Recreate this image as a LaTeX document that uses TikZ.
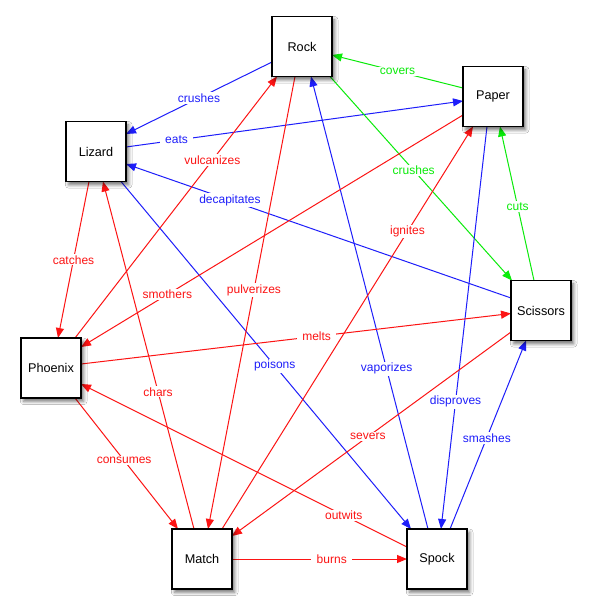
\documentclass[tikz,border=0pt]{standalone}
\usepackage{fontspec}
\setmainfont{Liberation Sans}
\usetikzlibrary{arrows.meta,calc,shadows.blur}
\definecolor{cred}{RGB}{252,20,20}
\definecolor{cblue}{RGB}{30,30,250}
\definecolor{cgreen}{RGB}{10,235,10}
\begin{document}
\begin{tikzpicture}[x=0.75pt,y=-0.75pt,
  box/.style={draw=black, line width=1pt, fill=white, minimum width=45pt, minimum height=45pt, inner sep=0pt,
    font=\fontsize{9.5}{11}\selectfont,
    blur shadow={shadow xshift=2pt, shadow yshift=-2.5pt, shadow blur radius=2.5pt, shadow opacity=55}},
  edge/.style={line width=0.75pt, -{Triangle[length=7.5pt,width=6pt]}},
  lbl/.style={fill=white, inner xsep=4pt, inner ysep=1pt, font=\fontsize{9}{10}\selectfont}
]
\fill[white] (0,0) rectangle (590,614);
\useasboundingbox (0,0) rectangle (590,614);

% node positions
\coordinate (rock) at (302,46.5);
\coordinate (paper) at (493,96.5);
\coordinate (lizard) at (96,151.5);
\coordinate (scissors) at (541,310.5);
\coordinate (phoenix) at (51,368);
\coordinate (match) at (202,559);
\coordinate (spock) at (437,559);

% edges
\draw[edge,cblue] ($(rock)+(-30,15.5)$) -- node[lbl,pos=.5]{crushes} ($(lizard)+(30,-17.5)$);
\draw[edge,cgreen] ($(paper)+(-30,-8.5)$) -- node[lbl,pos=.5]{covers} ($(rock)+(30,8.5)$);
\draw[edge,cblue] ($(lizard)+(30,-4.5)$) -- node[lbl,pos=.15]{eats} ($(paper)+(-30,4.5)$);
\draw[edge,cgreen] ($(rock)+(28,30)$) -- node[lbl,pos=.46]{crushes} ($(scissors)+(-29,-30)$);
\draw[edge,cgreen] ($(scissors)+(-7,-30)$) -- node[lbl,pos=.48]{cuts} ($(paper)+(7,30)$);
\draw[edge,cblue] ($(scissors)+(-30,-12.5)$) -- node[lbl,pos=.73]{decapitates} ($(lizard)+(30,12.5)$);
\draw[edge,cblue] ($(lizard)+(25,30)$) -- node[lbl,pos=.53]{poisons} ($(spock)+(-26,-30)$);
\draw[edge,cblue] ($(spock)+(-9,-30)$) -- node[lbl,pos=.354]{vaporizes} ($(rock)+(9,30)$);
\draw[edge,cblue] ($(paper)+(-6,30)$) -- node[lbl,pos=.684]{disproves} ($(spock)+(4,-30)$);
\draw[edge,cblue] ($(spock)+(13,-30)$) -- node[lbl,pos=.484]{smashes} ($(scissors)+(-15,30)$);
\draw[edge,cred] ($(phoenix)+(24,-30)$) -- node[lbl,pos=.68]{vulcanizes} ($(rock)+(-25,30)$);
\draw[edge,cred] ($(paper)+(-30,18.5)$) -- node[lbl,pos=.774]{smothers} ($(phoenix)+(30,-21)$);
\draw[edge,cred] ($(lizard)+(-7,30)$) -- node[lbl,pos=.5]{catches} ($(phoenix)+(7,-30)$);
\draw[edge,cred] ($(match)+(-8,-30)$) -- node[lbl,pos=.395]{chars} ($(lizard)+(7,30)$);
\draw[edge,cred] ($(rock)+(-7,30)$) -- node[lbl,pos=.472]{pulverizes} ($(match)+(6,-30)$);
\draw[edge,cred] ($(match)+(20,-30)$) -- node[lbl,pos=.739]{ignites} ($(paper)+(-20,30)$);
\draw[edge,cred] ($(phoenix)+(30,-4)$) -- node[lbl,pos=.548]{melts} ($(scissors)+(-30,3)$);
\draw[edge,cred] ($(phoenix)+(24,30)$) -- node[lbl,pos=.477]{consumes} ($(match)+(-24,-30)$);
\draw[edge,cred] ($(scissors)+(-30,21.5)$) -- node[lbl,pos=.513]{severs} ($(match)+(30,-23)$);
\draw[edge,cred] ($(spock)+(-30,-12)$) -- node[lbl,pos=.194]{outwits} ($(phoenix)+(30,16)$);
\draw[edge,cred] ($(match)+(30,0)$) -- node[lbl,pos=.57]{burns} ($(spock)+(-30,0)$);

% nodes
\node[box] (nrock) at (rock) {Rock};
\node[box] (npaper) at (paper) {Paper};
\node[box] (nlizard) at (lizard) {Lizard};
\node[box] (nscissors) at (scissors) {Scissors};
\node[box] (nphoenix) at (phoenix) {Phoenix};
\node[box] (nmatch) at (match) {Match};
\node[box] (nspock) at (spock) {Spock};
\end{tikzpicture}
\end{document}
